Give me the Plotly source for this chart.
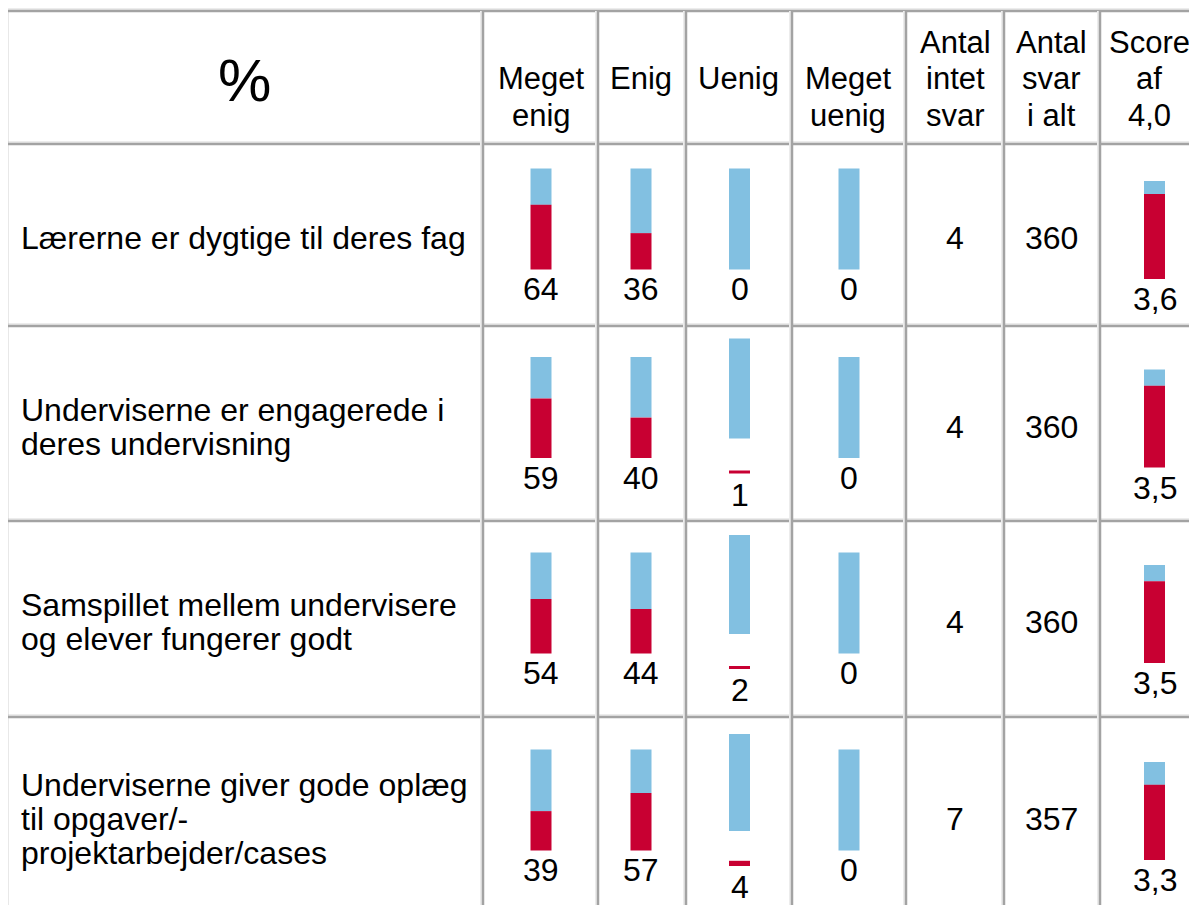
import plotly.graph_objects as go

# ---------------- data ----------------
questions = [
    ["Lærerne er dygtige til deres fag"],
    ["Underviserne er engagerede i", "deres undervisning"],
    ["Samspillet mellem undervisere", "og elever fungerer godt"],
    ["Underviserne giver gode oplæg", "til opgaver/-", "projektarbejder/cases"],
]
meget_enig = [64, 59, 54, 39]
enig = [36, 40, 44, 57]
uenig = [0, 1, 2, 4]
meget_uenig = [0, 0, 0, 0]
intet_svar = [4, 4, 4, 7]
svar_i_alt = [360, 360, 360, 357]
score = [3.6, 3.5, 3.5, 3.3]
score_labels = ["3,6", "3,5", "3,5", "3,3"]

headers = [
    ["Meget", "enig"],
    ["Enig"],
    ["Uenig"],
    ["Meget", "uenig"],
    ["Antal", "intet", "svar"],
    ["Antal", "svar", "i alt"],
    ["Score", "af", "4,0"],
]
corner_label = "%"

# ---------------- layout geometry (page pixels) ----------------
PAGE_W, PAGE_H = 1197, 905
OFF = 8                      # default body margin of the html page
RED = "#C80032"
BLUE = "#82C0E1"
DARK = "#A3A3A3"
LIGHT = "#ECECEC"
FONT = "Liberation Sans, Arial, sans-serif"
FS = 31
FS_BODY = 32

col_edges = [7, 483, 598, 686, 792, 906, 1004, 1100, 1210]
col_centers = [541, 641, 739.5, 849, 955, 1051, 1154.5]
header_centers = [541, 641, 738, 848, 955, 1051, 1149]
row_edges = [11, 144, 326, 521, 717, 915]
row_centers = [(row_edges[i + 1] + row_edges[i]) / 2 + 1 for i in range(1, 5)]
PX = 1.01          # pixels per percentage point
BAR_W = 21
SCORE_H = 98       # pixels for the full 1..4 score range

fig = go.Figure()

red_x, red_base, red_h = [], [], []
blue_x, blue_base, blue_h = [], [], []
annotations = []


def txt(x, y, s, size=FS, xanchor="center"):
    annotations.append(dict(x=x, y=y, xref="x", yref="y", text=s, showarrow=False,
                            xanchor=xanchor, yanchor="middle",
                            font=dict(family=FONT, size=size, color="#000000")))


pct_cols = [meget_enig, enig, uenig, meget_uenig]
for r in range(4):
    c = row_centers[r]
    for k, series in enumerate(pct_cols):
        v = series[r]
        xc = col_centers[k]
        if 0 < v < 5:
            # small shares are rendered on a separate line below the blue bar
            blue_bottom = c + 14
            bh = (100 - v) * PX
            blue_x.append(xc); blue_base.append(blue_bottom - bh); blue_h.append(bh)
            rh = max(3.0, v * 1.3)
            red_bottom = c + 49
            red_x.append(xc); red_base.append(red_bottom - rh); red_h.append(rh)
            txt(xc, c + 70, str(v), size=FS_BODY)
        else:
            bottom = c + 33.5
            rh = v * PX
            bh = (100 - v) * PX
            if rh > 0:
                red_x.append(xc); red_base.append(bottom - rh); red_h.append(rh)
            if bh > 0:
                blue_x.append(xc); blue_base.append(bottom - rh - bh); blue_h.append(bh)
            txt(xc, c + 53, str(v), size=FS_BODY)
    # counts
    txt(col_centers[4], c + 2, str(intet_svar[r]), size=FS_BODY)
    txt(col_centers[5], c + 2, str(svar_i_alt[r]), size=FS_BODY)
    # score bar (scale 1..4)
    xc = col_centers[6]
    bottom = c + 43
    rh = (score[r] - 1) / 3 * SCORE_H
    bh = SCORE_H - rh
    red_x.append(xc); red_base.append(bottom - rh); red_h.append(rh)
    blue_x.append(xc); blue_base.append(bottom - SCORE_H); blue_h.append(bh)
    txt(xc, c + 63, score_labels[r], size=FS_BODY)
    # question text
    lines = questions[r]
    sp = 34
    y0 = c + 2 - sp * (len(lines) - 1) / 2
    for i, ln in enumerate(lines):
        txt(19, y0 + i * sp, ln, size=FS_BODY, xanchor="left")

fig.add_trace(go.Bar(x=blue_x, y=blue_h, base=blue_base, width=BAR_W,
                     marker=dict(color=BLUE, line=dict(width=0)), hoverinfo="skip",
                     showlegend=False))
fig.add_trace(go.Bar(x=red_x, y=red_h, base=red_base, width=BAR_W,
                     marker=dict(color=RED, line=dict(width=0)), hoverinfo="skip",
                     showlegend=False))

# header texts
line_y = [42, 78, 115]
for k, hd in enumerate(headers):
    start = 0 if len(hd) == 3 else 1
    for i, ln in enumerate(hd):
        txt(header_centers[k], line_y[start + i], ln)
txt(244, 80, corner_label, size=60)

# grid lines
shapes = []
shapes.append(dict(type="line", xref="x", yref="y", x0=0, x1=PAGE_W, y0=7, y1=7,
                   line=dict(color=LIGHT, width=2)))
for y in row_edges[:-1]:
    shapes.append(dict(type="line", xref="x", yref="y", x0=col_edges[0], x1=PAGE_W,
                       y0=y - 2, y1=y - 2, line=dict(color=LIGHT, width=2)))
    shapes.append(dict(type="line", xref="x", yref="y", x0=col_edges[0], x1=PAGE_W,
                       y0=y, y1=y, line=dict(color=DARK, width=2.5)))
for x in col_edges[:-1]:
    shapes.append(dict(type="line", xref="x", yref="y", x0=x - 2, x1=x - 2,
                       y0=row_edges[0], y1=PAGE_H, line=dict(color=LIGHT, width=2)))
    shapes.append(dict(type="line", xref="x", yref="y", x0=x, x1=x,
                       y0=row_edges[0], y1=PAGE_H, line=dict(color=DARK, width=2.5)))

fig.update_layout(
    width=PAGE_W - OFF, height=PAGE_H - OFF, autosize=False,
    margin=dict(l=0, r=0, t=0, b=0, pad=0),
    paper_bgcolor="white", plot_bgcolor="white",
    barmode="overlay",
    xaxis=dict(range=[OFF, PAGE_W], visible=False, fixedrange=True),
    yaxis=dict(range=[PAGE_H, OFF], visible=False, fixedrange=True),
    shapes=shapes, annotations=annotations,
    showlegend=False,
)
fig.write_html("out.html", config={"displayModeBar": False})
